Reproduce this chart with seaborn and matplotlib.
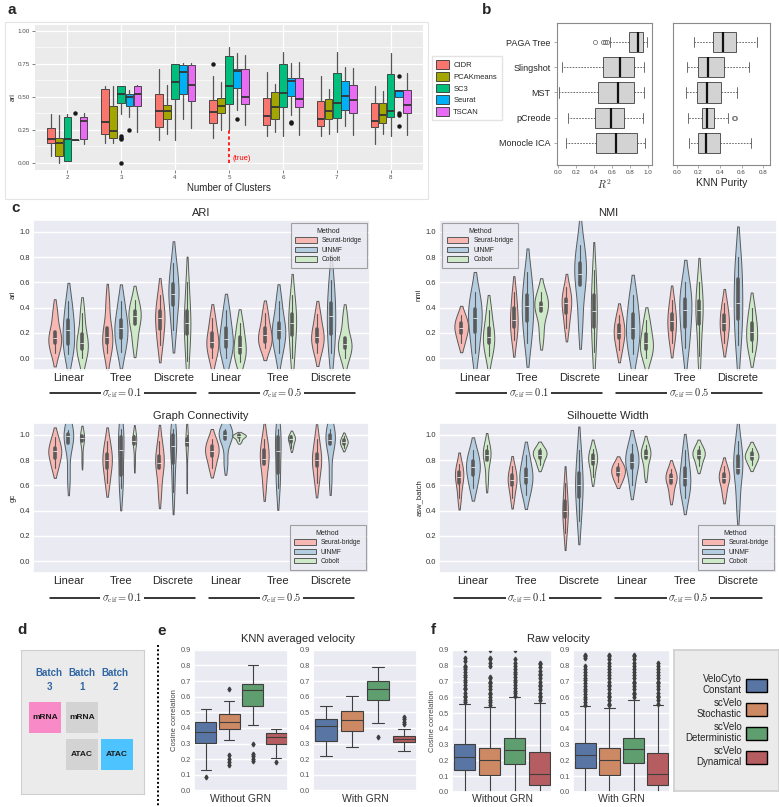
import numpy as np
import pandas as pd
import seaborn as sns
import matplotlib.pyplot as plt
from matplotlib.patches import Patch, Rectangle
from matplotlib.lines import Line2D

# ---------------- a: ari per number of clusters ----------------
# each box: whisker low, q1, median, q3, whisker high
clusters = ["2", "3", "4", "5", "6", "7", "8"]
true_k = "5"
a_methods = ["CIDR", "PCAKmeans", "SC3", "Seurat", "TSCAN"]
a_colors = ["#F8766D", "#A3A500", "#00BF7D", "#00B0F6", "#E76BF3"]
cidr = [[0.05, 0.15, 0.18, 0.26, 0.37], [0.15, 0.22, 0.31, 0.56, 0.58], [0.17, 0.27, 0.39, 0.52, 0.71],
        [0.19, 0.30, 0.385, 0.475, 0.66], [0.205, 0.29, 0.355, 0.49, 0.685], [0.20, 0.28, 0.33, 0.47, 0.66],
        [0.145, 0.27, 0.315, 0.455, 0.58]]
pcakmeans = [[0.0, 0.05, 0.15, 0.19, 0.36], [0.15, 0.19, 0.24, 0.43, 0.58], [0.22, 0.33, 0.39, 0.44, 0.59],
             [0.25, 0.38, 0.43, 0.49, 0.61], [0.235, 0.33, 0.425, 0.535, 0.595], [0.22, 0.33, 0.39, 0.485, 0.56],
             [0.22, 0.305, 0.365, 0.455, 0.545]]
sc3 = [[0.01, 0.01, 0.18, 0.35, 0.37], [0.37, 0.455, 0.52, 0.58, 0.58], [0.17, 0.48, 0.61, 0.75, 0.75],
       [0.25, 0.445, 0.58, 0.81, 0.88], [0.20, 0.42, 0.53, 0.75, 0.84], [0.235, 0.34, 0.45, 0.68, 0.84],
       [0.20, 0.345, 0.395, 0.67, 0.83]]
seurat = [[0.17, 0.17, 0.17, 0.17, 0.17], [0.35, 0.43, 0.50, 0.52, 0.55], [0.33, 0.52, 0.69, 0.745, 0.76],
          [0.40, 0.565, 0.695, 0.71, 0.835], [0.36, 0.51, 0.62, 0.64, 0.76], [0.28, 0.40, 0.51, 0.62, 0.73],
          [0.495, 0.495, 0.545, 0.555, 0.555]]
tscan = [[0.14, 0.18, 0.315, 0.35, 0.38], [0.235, 0.43, 0.52, 0.58, 0.59], [0.265, 0.47, 0.59, 0.745, 0.76],
         [0.285, 0.445, 0.50, 0.71, 0.82], [0.21, 0.425, 0.485, 0.645, 0.765], [0.21, 0.38, 0.475, 0.59, 0.72],
         [0.21, 0.375, 0.44, 0.555, 0.68]]
cidr_out = [[], [], [], [0.75], [], [], []]
pcakmeans_out = [[], [], [], [], [], [], []]
sc3_out = [[], [0.18, 0.19, 0.20, 0.0], [], [], [], [], []]
seurat_out = [[0.38], [0.25], [], [0.33], [0.31, 0.30], [], [0.66, 0.38, 0.36, 0.28]]
tscan_out = [[], [], [], [], [], [], []]

# ---------------- b: trajectory benchmarks ----------------
b_methods = ["Monocle ICA", "pCreode", "MST", "Slingshot", "PAGA Tree"]  # bottom to top
r2_box = [[0.085, 0.42, 0.65, 0.875, 0.967], [0.115, 0.41, 0.59, 0.737, 0.948], [0.01, 0.45, 0.67, 0.84, 0.955],
          [0.04, 0.50, 0.69, 0.84, 0.955], [0.575, 0.79, 0.89, 0.94, 0.985]]
r2_out = [[], [], [], [], [0.41, 0.50, 0.52, 0.54]]
knn_box = [[0.115, 0.198, 0.27, 0.40, 0.686], [0.105, 0.23, 0.276, 0.347, 0.47], [0.08, 0.189, 0.282, 0.406, 0.555],
           [0.09, 0.198, 0.29, 0.437, 0.673], [0.158, 0.338, 0.43, 0.546, 0.747]]
knn_out = [[], [0.533, 0.54], [], [], []]

# ---------------- c: integration metrics (violin observations) ----------------
c_keys = ["lin1", "tree1", "disc1", "lin5", "tree5", "disc5"]
c_scenarios = ["Linear", "Tree", "Discrete", "Linear", "Tree", "Discrete"]
sigma_levels = ["0.1", "0.5"]
c_methods = ["Seurat-bridge", "UINMF", "Cobolt"]

ari_seurat_bridge = [[0.04, 0.12, 0.16, 0.21, 0.36], [0.04, 0.12, 0.17, 0.24, 0.45], [0.1, 0.23, 0.32, 0.37, 0.5],
                     [0.0, 0.09, 0.13, 0.2, 0.32], [0.08, 0.13, 0.18, 0.24, 0.36], [0.04, 0.13, 0.17, 0.23, 0.35]]
ari_uinmf = [[0.03, 0.11, 0.22, 0.30, 0.45], [0.05, 0.16, 0.24, 0.30, 0.45], [0.22, 0.42, 0.51, 0.59, 0.75],
             [0.0, 0.09, 0.15, 0.24, 0.38], [0.04, 0.16, 0.22, 0.28, 0.45], [0.04, 0.19, 0.33, 0.44, 0.62]]
ari_cobolt = [[0.0, 0.07, 0.12, 0.19, 0.36], [0.12, 0.27, 0.33, 0.37, 0.46], [-0.02, 0.19, 0.28, 0.37, 0.6],
              [-0.03, 0.04, 0.09, 0.17, 0.28], [0.0, 0.18, 0.28, 0.35, 0.5], [0.0, 0.08, 0.11, 0.16, 0.32]]

nmi_seurat_bridge = [[0.12, 0.2, 0.24, 0.28, 0.34], [0.14, 0.25, 0.30, 0.40, 0.52], [0.24, 0.36, 0.44, 0.47, 0.56],
                     [0.06, 0.16, 0.2, 0.26, 0.34], [0.12, 0.22, 0.29, 0.35, 0.46], [0.12, 0.22, 0.28, 0.34, 0.44]]
nmi_uinmf = [[0.04, 0.21, 0.32, 0.39, 0.52], [0.12, 0.29, 0.41, 0.5, 0.68], [0.28, 0.58, 0.67, 0.75, 0.9],
             [0.03, 0.16, 0.24, 0.35, 0.5], [0.08, 0.25, 0.38, 0.47, 0.6], [0.1, 0.31, 0.44, 0.63, 0.8]]
nmi_cobolt = [[0.02, 0.12, 0.17, 0.24, 0.38], [0.18, 0.37, 0.41, 0.44, 0.52], [0.05, 0.25, 0.37, 0.5, 0.7],
              [0.0, 0.07, 0.12, 0.19, 0.3], [0.02, 0.27, 0.38, 0.45, 0.6], [0.05, 0.14, 0.21, 0.28, 0.4]]

gc_seurat_bridge = [[0.74, 0.82, 0.87, 0.9, 0.98], [0.62, 0.74, 0.8, 0.85, 0.95], [0.55, 0.74, 0.78, 0.83, 0.95],
                    [0.74, 0.83, 0.87, 0.91, 0.97], [0.6, 0.77, 0.81, 0.88, 0.97], [0.62, 0.75, 0.8, 0.85, 0.97]]
gc_uinmf = [[0.66, 0.94, 0.99, 1.01, 1.04], [0.58, 0.68, 0.88, 0.98, 1.05], [0.55, 0.78, 0.91, 1.0, 1.05],
            [0.78, 0.97, 1.0, 1.02, 1.05], [0.58, 0.7, 0.87, 0.98, 1.05], [0.66, 0.93, 0.96, 1.0, 1.05]]
gc_cobolt = [[0.8, 0.955, 0.975, 0.99, 1.0], [0.78, 0.93, 0.955, 0.98, 1.0], [0.66, 0.92, 0.945, 0.97, 1.0],
             [0.95, 0.98, 0.99, 1.0, 1.005], [0.9, 0.945, 0.965, 0.985, 1.0], [0.9, 0.93, 0.945, 0.96, 0.99]]

asw_seurat_bridge = [[0.5, 0.62, 0.67, 0.71, 0.77], [0.5, 0.6, 0.64, 0.68, 0.75], [0.22, 0.35, 0.4, 0.48, 0.62],
                     [0.63, 0.68, 0.71, 0.74, 0.78], [0.52, 0.62, 0.655, 0.68, 0.73], [0.53, 0.63, 0.66, 0.69, 0.75]]
asw_uinmf = [[0.58, 0.68, 0.745, 0.79, 0.88], [0.52, 0.62, 0.67, 0.73, 0.84], [0.32, 0.51, 0.6, 0.7, 0.88],
             [0.6, 0.74, 0.785, 0.84, 0.93], [0.5, 0.6, 0.655, 0.74, 0.88], [0.45, 0.7, 0.74, 0.83, 0.95]]
asw_cobolt = [[0.64, 0.8, 0.84, 0.87, 0.92], [0.76, 0.82, 0.845, 0.87, 0.9], [0.67, 0.77, 0.8, 0.84, 0.89],
              [0.7, 0.815, 0.845, 0.87, 0.92], [0.75, 0.82, 0.845, 0.87, 0.91], [0.76, 0.81, 0.83, 0.855, 0.9]]

# ---------------- e / f: velocity cosine correlation ----------------
v_methods = ["VeloCyto\nConstant", "scVelo\nStochastic", "scVelo\nDeterministic", "scVelo\nDynamical"]
knn_without = [[0.13, 0.306, 0.375, 0.44, 0.52], [0.32, 0.39, 0.435, 0.49, 0.575],
               [0.42, 0.54, 0.64, 0.68, 0.80], [0.21, 0.30, 0.34, 0.365, 0.39]]
knn_without_out = [[0.085], [0.65, 0.225, 0.2, 0.18, 0.16], [0.295, 0.235, 0.22, 0.2, 0.19], [0.18]]
knn_with = [[0.22, 0.317, 0.41, 0.455, 0.54], [0.28, 0.38, 0.45, 0.51, 0.605],
            [0.43, 0.58, 0.65, 0.70, 0.79], [0.255, 0.31, 0.33, 0.35, 0.39]]
knn_with_out = [[], [], [0.345], [0.47, 0.455, 0.44, 0.425]]
raw_without = [[-0.1, 0.137, 0.225, 0.307, 0.555], [-0.1, 0.11, 0.20, 0.28, 0.54],
               [-0.1, 0.175, 0.265, 0.345, 0.60], [-0.1, 0.042, 0.117, 0.255, 0.565]]
raw_without_out = [
    [0.57, 0.58, 0.6, 0.61, 0.63, 0.65, 0.66, 0.68, 0.7, 0.71, 0.73, 0.74, 0.76, 0.78, 0.79, 0.8, 0.83, 0.85, 0.9],
    [0.55, 0.57, 0.58, 0.6, 0.62, 0.63, 0.65, 0.67, 0.69, 0.7, 0.72, 0.73, 0.8, 0.82, 0.84, 0.85, 0.9],
    [0.61, 0.63, 0.64, 0.66, 0.68, 0.7, 0.71, 0.73, 0.75, 0.76, 0.78, 0.8, 0.82, 0.84, 0.9],
    [0.58, 0.6, 0.61, 0.63, 0.65, 0.67, 0.68, 0.7, 0.72, 0.74, 0.75, 0.77, 0.79, 0.81, 0.82]]
raw_with = [[-0.1, 0.152, 0.237, 0.31, 0.547], [-0.1, 0.11, 0.20, 0.28, 0.535],
            [-0.1, 0.185, 0.27, 0.345, 0.585], [-0.1, 0.042, 0.117, 0.245, 0.55]]
raw_with_out = [
    [0.55, 0.57, 0.59, 0.6, 0.62, 0.64, 0.65, 0.67, 0.69, 0.71, 0.72, 0.74, 0.76, 0.78, 0.8, 0.85, 0.86, 0.87],
    [0.55, 0.56, 0.58, 0.6, 0.61, 0.63, 0.65, 0.67, 0.68, 0.7, 0.72, 0.74, 0.76, 0.78, 0.8, 0.82, 0.84, 0.86, 0.87],
    [0.6, 0.62, 0.63, 0.65, 0.67, 0.69, 0.7, 0.72, 0.74, 0.76, 0.78, 0.8, 0.82, 0.84, 0.86, 0.87],
    [0.56, 0.58, 0.6, 0.61, 0.63, 0.65, 0.67, 0.69, 0.7, 0.72, 0.74, 0.76, 0.78, 0.8, 0.82]]

sns.set_theme(style="darkgrid")
plt.rcParams["font.family"] = ["Liberation Sans", "DejaVu Sans"]
plt.rcParams["mathtext.fontset"] = "cm"

W, H = 779, 807
fig = plt.figure(figsize=(W / 100, H / 100), dpi=100)
fig.patch.set_facecolor("white")


def px_axes(x0, y0, x1, y1):
    return fig.add_axes([x0 / W, 1 - y1 / H, (x1 - x0) / W, (y1 - y0) / H])


def to_stats(box, out):
    return dict(whislo=box[0], q1=box[1], med=box[2], q3=box[3], whishi=box[4], fliers=out)


# faint frame of the original sub-figure a
fig.add_artist(Rectangle((5 / W, 1 - 199 / H), 423 / W, 177 / H, transform=fig.transFigure,
                         facecolor="none", edgecolor="#e4e4e4", linewidth=0.8))

# ====== panel a ======
ax = px_axes(35, 25, 423, 170)
ax.set_facecolor("#EBEBEB")
a_boxes = [cidr, pcakmeans, sc3, seurat, tscan]
a_outs = [cidr_out, pcakmeans_out, sc3_out, seurat_out, tscan_out]
xpos = np.arange(len(clusters))
for i, (boxes, outs, col) in enumerate(zip(a_boxes, a_outs, a_colors)):
    stats = [to_stats(b, o) for b, o in zip(boxes, outs)]
    ax.bxp(stats, positions=xpos + (i - 2) * 0.15, widths=0.14, patch_artist=True, showcaps=False,
           boxprops=dict(facecolor=col, edgecolor="#333333", linewidth=0.6),
           medianprops=dict(color="#333333", linewidth=1.3),
           whiskerprops=dict(color="#555555", linewidth=0.9),
           flierprops=dict(marker="o", markerfacecolor="#1a1a1a", markeredgecolor="#1a1a1a", markersize=2.2),
           manage_ticks=False)
k = clusters.index(true_k)
ax.plot([k, k], [0, 0.25], color="red", linestyle=(0, (2, 1.5)), linewidth=1.2)
ax.text(k + 0.07, 0.03, "(true)", color="red", fontsize=5.5, va="center")
ax.set_xlim(-0.6, 6.6)
ax.set_ylim(-0.055, 1.045)
ax.set_xticks(xpos)
ax.set_xticklabels(clusters)
ax.set_yticks([0, 0.25, 0.5, 0.75, 1.0])
ax.set_yticklabels(["0.00", "0.25", "0.50", "0.75", "1.00"])
ax.set_yticks([0.125, 0.375, 0.625, 0.875], minor=True)
ax.grid(True, which="major", color="white", linewidth=0.9)
ax.grid(True, which="minor", axis="y", color="white", linewidth=0.45)
ax.set_axisbelow(True)
for s in ax.spines.values():
    s.set_visible(False)
ax.tick_params(which="major", labelsize=4.5, labelcolor="#4D4D4D", color="#4D4D4D", length=2, width=0.5, pad=1.5,
               bottom=True, left=True)
ax.tick_params(which="minor", length=0)
ax.set_xlabel("Number of Clusters", fontsize=7, labelpad=2)
ax.set_ylabel("ari", fontsize=5, labelpad=1)
ax.legend([Patch(facecolor=c, edgecolor="#333333", linewidth=0.6) for c in a_colors], a_methods,
          loc="upper left", bbox_to_anchor=(428 / W, 1 - 52 / H), bbox_transform=fig.transFigure,
          fontsize=5.5, frameon=True, facecolor="white", edgecolor="#dddddd", fancybox=False,
          handlelength=1.6, handleheight=1.4, labelspacing=0.35, borderpad=0.6, handletextpad=0.6)

# ====== panel b ======
b_panels = [(px_axes(557, 23, 652, 165), r2_box, r2_out, "$R^2$", (-0.01, 1.044), [0, 0.2, 0.4, 0.6, 0.8, 1.0]),
            (px_axes(673, 23, 770, 165), knn_box, knn_out, "KNN Purity", (-0.037, 0.865), [0, 0.2, 0.4, 0.6, 0.8])]
for j, (ax, boxes, outs, xlab, xlim, xt) in enumerate(b_panels):
    ax.set_facecolor("white")
    ax.grid(False)
    ax.bxp([to_stats(b, o) for b, o in zip(boxes, outs)], positions=np.arange(1, 6), widths=0.8,
           orientation="horizontal", patch_artist=True, capwidths=0.4,
           boxprops=dict(facecolor="#D3D3D3", edgecolor="#555555", linewidth=0.7),
           medianprops=dict(color="#111111", linewidth=1.6),
           whiskerprops=dict(color="#555555", linewidth=0.6, linestyle=(0, (2, 1.5))),
           capprops=dict(color="#555555", linewidth=0.6),
           flierprops=dict(marker="o", markerfacecolor="none", markeredgecolor="#666666", markersize=3,
                           markeredgewidth=0.5),
           manage_ticks=False)
    ax.set_xlim(*xlim)
    ax.set_ylim(0.12, 5.76)
    ax.set_xticks(xt)
    ax.set_xticklabels([f"{v:.1f}" for v in xt])
    for s in ax.spines.values():
        s.set_color("#8a8a8a")
        s.set_linewidth(0.8)
    ax.tick_params(axis="x", labelsize=4.5, labelcolor="#444444", color="#8a8a8a", length=2, width=0.5, pad=1.5,
                   bottom=True)
    ax.set_xlabel(xlab, fontsize=7.5, labelpad=2)
    if j == 0:
        ax.set_yticks(np.arange(1, 6))
        ax.set_yticklabels(b_methods, fontsize=6.5)
        ax.tick_params(axis="y", length=2.5, width=0.5, color="#8a8a8a", pad=2, left=True)
    else:
        ax.set_yticks([])

# ====== panel c ======
c_palette = sns.color_palette("Pastel1", 3)
c_panels = [("ARI", "ari", (33, 220, 370, 370), [ari_seurat_bridge, ari_uinmf, ari_cobolt], "upper right", -0.153),
            ("NMI", "nmi", (439, 220, 777, 370), [nmi_seurat_bridge, nmi_uinmf, nmi_cobolt], "upper left", -0.153),
            ("Graph Connectivity", "gc", (33, 423, 369, 573), [gc_seurat_bridge, gc_uinmf, gc_cobolt],
             "lower right", -0.167),
            ("Silhouette Width", "asw_batch", (439, 423, 777, 573), [asw_seurat_bridge, asw_uinmf, asw_cobolt],
             "lower right", -0.167)]
for title, ylab, box, series, loc, yline in c_panels:
    ax = px_axes(*box)
    rows = []
    for method, per_scenario in zip(c_methods, series):
        for key, obs in zip(c_keys, per_scenario):
            for v in obs:
                rows.append((key, method, v))
    df = pd.DataFrame(rows, columns=["scenario", "Method", "value"])
    sns.violinplot(data=df, x="scenario", y="value", hue="Method", order=c_keys, hue_order=c_methods,
                   palette=c_palette, inner="box", cut=1.3, bw_adjust=0.95, linewidth=0.7, width=0.78,
                   linecolor="#5a5a5a", saturation=0.9, inner_kws=dict(box_width=2.6, whis_width=0.8),
                   ax=ax)
    ax.set_ylim(-0.095, 1.095)
    ax.set_yticks([0, 0.2, 0.4, 0.6, 0.8, 1.0])
    ax.set_yticklabels(["0.0", "0.2", "0.4", "0.6", "0.8", "1.0"])
    ax.set_xticks(range(len(c_keys)))
    ax.set_xticklabels(c_scenarios)
    ax.xaxis.grid(False)
    ax.tick_params(axis="x", labelsize=8, length=0, pad=2.5, labelcolor="#262626")
    ax.tick_params(axis="y", labelsize=5.5, length=0, pad=2, labelcolor="#333333")
    ax.set_xlabel("")
    ax.set_ylabel(ylab, fontsize=5.5, labelpad=2)
    ax.set_title(title, fontsize=8, pad=3)
    handles, labels = ax.get_legend_handles_labels()
    leg = ax.legend(handles, labels, title="Method", loc=loc, fontsize=4.8, title_fontsize=5,
                    frameon=True, facecolor="#EAEAF2", edgecolor="#8c8c8c", fancybox=False,
                    handlelength=3.2, handleheight=0.9, labelspacing=0.35, borderpad=0.7)
    leg.get_frame().set_linewidth(0.8)
    tr = ax.get_xaxis_transform()
    for x0, x1, xt, sig in [(-0.35, 2.42, 1.03, sigma_levels[0]), (2.68, 5.45, 4.07, sigma_levels[1])]:
        ax.plot([x0, x1], [yline, yline], transform=tr, color="black", linewidth=1.1, clip_on=False)
        ax.text(xt, yline, r"$\sigma_{\mathrm{cif}} = " + sig + "$", transform=tr, ha="center", va="center",
                fontsize=7.5, bbox=dict(facecolor="white", edgecolor="none", pad=1.2))

# ====== panel d ======
ax = px_axes(21, 650, 144, 794)
ax.set_xlim(21, 144)
ax.set_ylim(794, 650)
ax.set_facecolor("#EBEBEB")
ax.grid(False)
ax.set_xticks([])
ax.set_yticks([])
for s in ax.spines.values():
    s.set_color("#cfcfcf")
    s.set_linewidth(0.8)
batch_labels = ["Batch\n3", "Batch\n1", "Batch\n2"]
for xc, lab in zip([49, 82, 115], batch_labels):
    ax.text(xc, 680, lab, ha="center", va="center", fontsize=7, fontweight="bold", color="#2F66A3",
            linespacing=1.45)
for (x0, y0, col, lab) in [(29, 702, "#F98AC8", "mRNA"), (66, 702, "#D3D3D3", "mRNA"),
                           (66, 739, "#D3D3D3", "ATAC"), (101, 739, "#4DC3FF", "ATAC")]:
    ax.add_patch(Rectangle((x0, y0), 32, 31, facecolor=col, edgecolor="none"))
    ax.text(x0 + 16, y0 + 15.5, lab, ha="center", va="center", fontsize=6, fontweight="bold", color="#1a1a1a")

fig.add_artist(Line2D([158 / W, 158 / W], [1 - 645 / H, 0.0], transform=fig.transFigure, color="black",
                      linestyle=(0, (1, 1.2)), linewidth=1.4))

# ====== panels e / f ======
v_palette = sns.color_palette("deep", 4, desat=0.75)
offsets = [-0.3, -0.1, 0.1, 0.3]


def velocity_axes(box, stats, outs, label, ylim, ylabel):
    ax = px_axes(*box)
    ax.set_facecolor("#EAEAF2")
    for off, st, o, col in zip(offsets, stats, outs, v_palette):
        ax.bxp([to_stats(st, o)], positions=[off], widths=0.175, patch_artist=True, capwidths=0.088,
               boxprops=dict(facecolor=col, edgecolor="#3f3f3f", linewidth=0.8),
               medianprops=dict(color="#3f3f3f", linewidth=0.8),
               whiskerprops=dict(color="#3f3f3f", linewidth=0.8),
               capprops=dict(color="#3f3f3f", linewidth=0.8),
               flierprops=dict(marker="d", markerfacecolor="#3f3f3f", markeredgecolor="#3f3f3f", markersize=2.4),
               manage_ticks=False)
    ax.set_xlim(-0.4, 0.4)
    ax.set_ylim(*ylim)
    ax.set_xticks([0])
    ax.set_xticklabels([label])
    ax.xaxis.grid(False)
    yt = np.arange(0, 10) / 10
    ax.set_yticks(yt)
    ax.set_yticklabels([f"{v:.1f}" for v in yt])
    ax.tick_params(axis="x", labelsize=7.5, length=0, pad=1.5, labelcolor="#333333")
    ax.tick_params(axis="y", labelsize=5.3, length=0, pad=2, labelcolor="#555555")
    if ylabel:
        ax.set_ylabel("Cosine correlation", fontsize=5.5, labelpad=2, color="#444444")
    return ax


axe1 = velocity_axes((194, 649, 288, 792), knn_without, knn_without_out, "Without GRN", (-0.01, 0.905), True)
axe2 = velocity_axes((313, 649, 417, 792), knn_with, knn_with_out, "With GRN", (-0.01, 0.905), False)
axf1 = velocity_axes((452, 650, 552, 792), raw_without, raw_without_out, "Without GRN", (0, 0.9), True)
axf2 = velocity_axes((573, 650, 670, 792), raw_with, raw_with_out, "With GRN", (0, 0.9), False)
fig.text(298 / W, 1 - 639 / H, "KNN averaged velocity", ha="center", va="center", fontsize=8)
fig.text(558 / W, 1 - 639 / H, "Raw velocity", ha="center", va="center", fontsize=8)

# legend box for e / f
axl = px_axes(674, 650, 779, 791)
axl.set_facecolor("#EBEBEB")
axl.grid(False)
axl.set_xticks([])
axl.set_yticks([])
for s in axl.spines.values():
    s.set_color("#d0d0d0")
leg = axl.legend([Patch(facecolor=c, edgecolor="black", linewidth=1.0) for c in v_palette], v_methods,
                 loc="center", frameon=False, markerfirst=False, fontsize=7, handlelength=2.2, handleheight=1.7,
                 labelspacing=0.25, handletextpad=0.4)
for t in leg.get_texts():
    t.set_multialignment("right")

# panel letters
for lab, x, y in [("a", 12, 10), ("b", 487, 10), ("c", 16, 208), ("d", 22, 630), ("e", 162, 631), ("f", 433, 630)]:
    fig.text(x / W, 1 - y / H, lab, ha="center", va="center", fontsize=11, fontweight="bold")

fig.savefig("out.png", dpi=100)
